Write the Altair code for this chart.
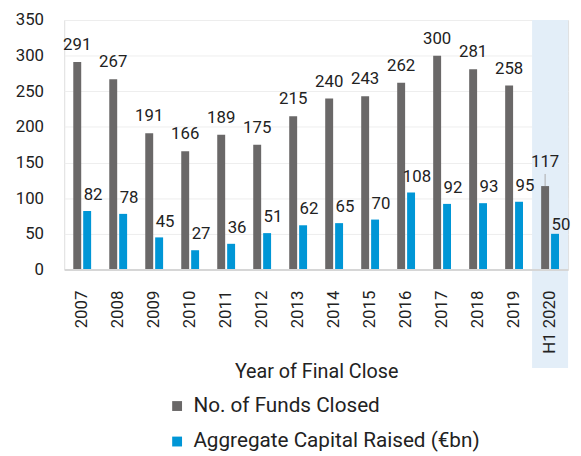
import altair as alt
import pandas as pd

years = ["2007", "2008", "2009", "2010", "2011", "2012", "2013", "2014",
         "2015", "2016", "2017", "2018", "2019", "H1 2020"]
funds = [291, 267, 191, 166, 189, 175, 215, 240, 243, 262, 300, 281, 258, 117]
capital = [82, 78, 45, 27, 36, 51, 62, 65, 70, 108, 92, 93, 95, 50]
highlight = ["H1 2020"]
series_names = ["No. of Funds Closed", "Aggregate Capital Raised (€bn)"]

rows = []
for y, f, c in zip(years, funds, capital):
    rows.append({"year": y, "series": series_names[0], "value": f})
    rows.append({"year": y, "series": series_names[1], "value": c})
df = pd.DataFrame(rows)
hl = pd.DataFrame({"year": highlight})

FONT = "Roboto"
GRAY = "#6a6868"
BLUE = "#0096d6"
W, H = 511, 253

xaxis = alt.Axis(title="Year of Final Close", labelAngle=-90, labelAlign="right",
                 labelBaseline="middle", labelPadding=21, labelFontSize=17,
                 labelColor="#222", labelFont=FONT, ticks=False, domain=True,
                 domainColor="#d6d6d6", domainWidth=2, titleFontSize=20,
                 titleFont=FONT, titleFontWeight="normal", titleColor="#222",
                 titlePadding=8, grid=False)
xscale = alt.Scale(domain=years, paddingInner=0, paddingOuter=0)
xs = alt.X("year:N", sort=years, scale=xscale, axis=xaxis)
xo = alt.XOffset("series:N", sort=series_names,
                 scale=alt.Scale(domain=series_names, paddingInner=0.2, paddingOuter=0.915))
ys = alt.Y("value:Q", scale=alt.Scale(domain=[0, 350], nice=False),
           axis=alt.Axis(title=None, values=[0, 50, 100, 150, 200, 250, 300, 350],
                         labelFontSize=17, labelColor="#222", labelFont=FONT,
                         labelFontWeight="normal", labelPadding=21,
                         ticks=False, domain=False, gridColor="#eeeeee", gridWidth=1))

shade = alt.Chart(hl).mark_rect(color="#e3eef8").encode(
    x=xs, y=alt.value(0), y2=alt.value(H + 100))

base = alt.Chart(df)
bars = base.mark_bar().encode(
    x=xs, xOffset=xo, y=ys,
    color=alt.Color("series:N", sort=series_names,
                    scale=alt.Scale(domain=series_names, range=[GRAY, BLUE]),
                    legend=alt.Legend(title=None, orient="none", legendX=104, legendY=381,
                                      direction="vertical", symbolType="square",
                                      symbolSize=100, symbolStrokeWidth=0,
                                      labelFontSize=21, labelColor="#222", labelFont=FONT,
                                      labelLimit=0, labelOffset=6, rowPadding=14)))

tx = dict(font=FONT, fontSize=17, color="#222", baseline="alphabetic")
enc = dict(x=xs, xOffset=xo, y=ys, text="value:Q")

t1 = base.transform_filter(
    (alt.datum.series == series_names[0]) & (alt.datum.year != highlight[0])
).mark_text(dy=-12, **tx).encode(**enc)
t2 = base.transform_filter(
    (alt.datum.series == series_names[1]) & (alt.datum.year != highlight[0])
).mark_text(dy=-11, dx=6, **tx).encode(**enc)
t3 = base.transform_filter(
    (alt.datum.series == series_names[0]) & (alt.datum.year == highlight[0])
).mark_text(dy=-19, **tx).encode(**enc)
t4 = base.transform_filter(
    (alt.datum.series == series_names[1]) & (alt.datum.year == highlight[0])
).mark_text(dy=-4, dx=6, **tx).encode(**enc)
leader = base.transform_filter(
    (alt.datum.series == series_names[0]) & (alt.datum.year == highlight[0])
).transform_calculate(top="datum.value + 17").mark_rule(color="#aaaaaa", strokeWidth=1).encode(
    x=xs, xOffset=xo, y=ys, y2="top:Q")

chart = alt.layer(shade, bars, leader, t1, t2, t3, t4).properties(
    width=W, height=H,
    autosize=alt.AutoSizeParams(type="none"),
    padding={"left": 57, "top": 9, "right": 5, "bottom": 186},
).configure_view(stroke=None).configure(font=FONT)

chart.save("out.html", embed_options={"renderer": "svg", "actions": False})
